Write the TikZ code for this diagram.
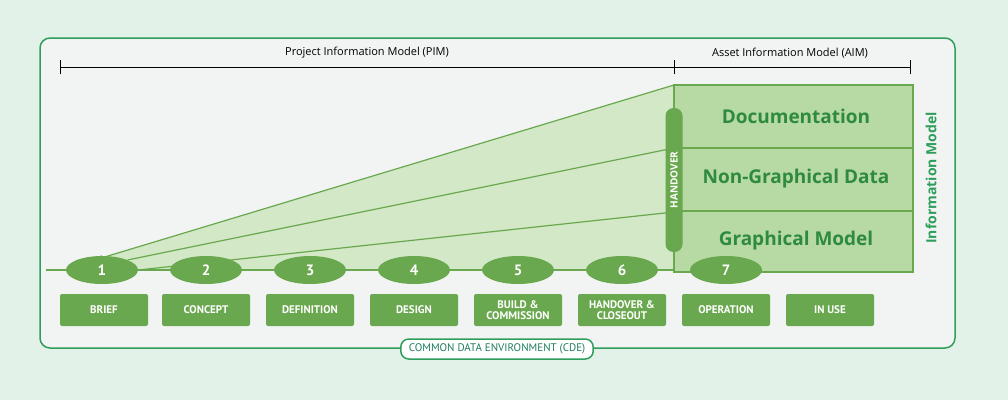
\documentclass[tikz,border=0pt]{standalone}
\usepackage{fontspec}
\setmainfont{Open Sans}
\newfontfamily\narrowf{PT Sans}
\usetikzlibrary{shapes.geometric}
\definecolor{bgc}{HTML}{E3F2E8}
\definecolor{panel}{HTML}{F2F4F3}
\definecolor{frame}{HTML}{2E9E5B}
\definecolor{gmid}{HTML}{6AA84F}
\definecolor{glight}{HTML}{D2E8C6}
\definecolor{gbox}{HTML}{B7D9A3}
\definecolor{gtext}{HTML}{2E8B3E}
\definecolor{teal}{HTML}{1E7D5A}
\begin{document}
\begin{tikzpicture}[x=1pt,y=-1pt,
  stage/.style={ellipse,fill=gmid,minimum width=72pt,minimum height=28pt,inner sep=0pt,text=white,font=\narrowf\bfseries\fontsize{15}{15}\selectfont},
  lab/.style={rectangle,rounded corners=2pt,fill=gmid,minimum width=88pt,minimum height=32pt,inner sep=1pt,text=white,align=center,font=\narrowf\bfseries\fontsize{11}{11}\selectfont},
  big/.style={text=gtext,font=\bfseries\fontsize{19}{19}\selectfont}]
\useasboundingbox (0,0) rectangle (1008,400);
\fill[bgc] (0,0) rectangle (1008,400);
\draw[frame,line width=1.5pt,fill=panel,rounded corners=10pt] (40,38) rectangle (955,348);
% dimension line
\coordinate (d0) at (60,67); \coordinate (d1) at (674,67); \coordinate (d2) at (910,67);
\draw[line width=0.8pt] (d0) -- (d2);
\foreach \p in {d0,d1,d2} \draw[line width=0.8pt] ([yshift=-7pt]\p) -- ([yshift=7pt]\p);
\node[font=\fontsize{11}{11}\selectfont] (pim) at (367,53) {Project Information Model (PIM)};
\node[font=\fontsize{11}{11}\selectfont] (aim) at (790,53) {Asset Information Model (AIM)};
% wedge
\coordinate (apex) at (88,262);
\coordinate (wt) at (674,85); \coordinate (wb) at (674,270);
\fill[glight] (apex) -- (wt) -- (wb) -- (80,270) -- cycle;
\draw[gmid,line width=1.2pt] (apex) -- (wt);
% AIM box
\draw[gmid,line width=1.2pt,fill=gbox] (674,85) rectangle (913,272);
\draw[gmid,line width=1.2pt] (674,148) -- (913,148) (674,211) -- (913,211);
\node[big] (doc) at (796,116) {Documentation};
\node[big] (ngd) at (796,179) {Non-Graphical Data};
\node[big] (gm) at (796,241) {Graphical Model};
\draw[gmid,line width=1.2pt] (wt) -- (wb);
% timeline
\draw[gmid,line width=1.5pt] (46,270) -- (674,270);
\foreach \i/\x in {1/102,2/206,3/310,4/414,5/518,6/622,7/726}
  \node[stage] (s\i) at (\x,270) {\i};
\draw[gmid,line width=1.2pt] (s1.north east) -- (674,148);
\draw[gmid,line width=1.2pt] (s1.east) -- (674,212);
\draw[gmid,line width=1.2pt] (apex) -- (s1.north);
% handover pill
\node[rectangle,rounded corners=8pt,fill=gmid,minimum width=144pt,minimum height=17pt,rotate=90,text=white,font=\bfseries\fontsize{10}{10}\selectfont,inner sep=0pt] (ho) at (674,180) {HANDOVER};
% labels
\foreach \n/\x/\t in {b/104/BRIEF,c/206/CONCEPT,d/310/DEFINITION,e/414/DESIGN,f/518/{BUILD \&\\COMMISSION},g/622/{HANDOVER \&\\CLOSEOUT},h/726/OPERATION,k/830/IN USE}
  \node[lab] (l\n) at (\x,310) {\t};
\node[rotate=90,text=frame,font=\bfseries\fontsize{14}{14}\selectfont] (im) at (931,178) {Information Model};
\node[draw=frame,line width=1.5pt,fill=white,rounded corners=8pt,text=teal,inner xsep=8pt,minimum height=20pt,font=\narrowf\fontsize{11}{11}\selectfont] (cde) at (497,349) {COMMON DATA ENVIRONMENT (CDE)};
\end{tikzpicture}
\end{document}
